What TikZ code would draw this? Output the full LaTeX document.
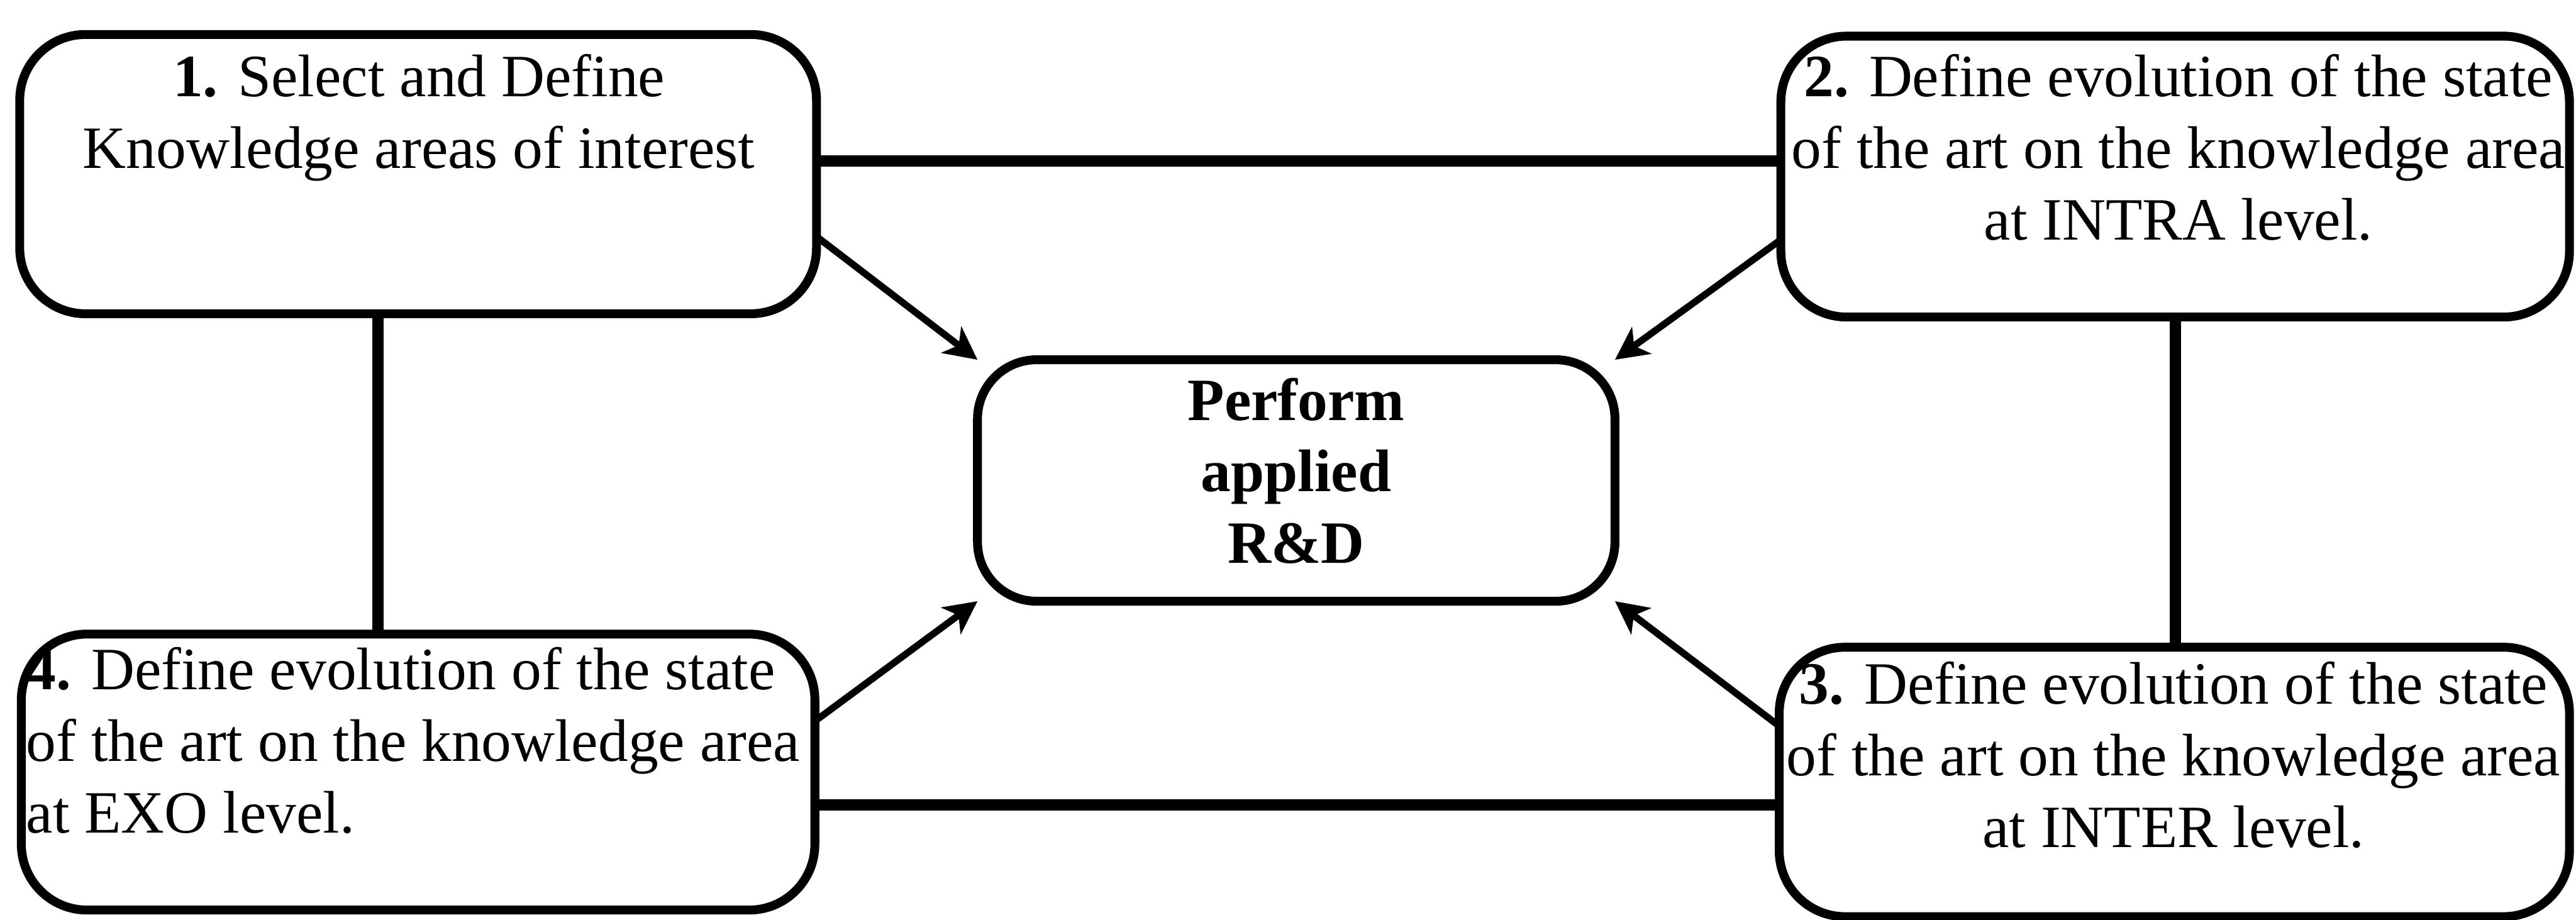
\documentclass[tikz,border=0pt]{standalone}
\usepackage{fontspec}
\setmainfont{Liberation Serif}
\usetikzlibrary{arrows.meta}

\tikzset{
  stagebox/.style={draw=black, line width=1.35mm, rounded corners=10mm,
    rectangle, inner sep=0pt, outer sep=0pt},
  hubbox/.style={stagebox, rounded corners=9mm},
  stagetext/.style={inner sep=0pt, outer sep=0pt,
    font=\fontsize{26}{31}\selectfont},
  link/.style={draw=black, line width=1.7mm},
  feed/.style={draw=black, line width=1.05mm,
    -{Stealth[length=5mm, width=5mm, inset=1.4mm]}}
}

\begin{document}
\begin{tikzpicture}[x=0.25mm, y=-0.25mm]
  \useasboundingbox (0,0) rectangle (1568,560);
  \fill[white] (0,0) rectangle (1568,560);

  % the four stage boxes and the central box
  \node[stagebox, minimum width=121.25mm, minimum height=42.5mm]  (b1) at (254.5,106) {};
  \node[stagebox, minimum width=120mm,    minimum height=42.75mm] (b2) at (1324,107.5) {};
  \node[stagebox, minimum width=120.75mm, minimum height=42mm]    (b4) at (254.5,470) {};
  \node[stagebox, minimum width=120.25mm, minimum height=41mm]    (b3) at (1323.5,476) {};
  \node[hubbox,   minimum width=97mm,     minimum height=36.75mm] (c)  at (789,292.5) {};

  % box texts
  \node[stagetext, anchor=north, align=center] (t1) at (255,33)
    {\textbf{1.} Select and Define\\Knowledge areas of interest};
  \node[stagetext, anchor=north, align=center] (t2) at (1326,33)
    {\textbf{2.} Define evolution of the state\\of the art on the knowledge area\\at INTRA level.};
  \node[stagetext, anchor=north, align=center] (t3) at (1323,403)
    {\textbf{3.} Define evolution of the state\\of the art on the knowledge area\\at INTER level.};
  \node[stagetext, anchor=north west, align=left] (t4) at (16,394)
    {\textbf{4.} Define evolution of the state\\of the art on the knowledge area\\at EXO level.};
  \node[stagetext, anchor=north, align=center, font=\fontsize{26}{31}\selectfont\bfseries] (tc) at (789,230)
    {Perform\\applied\\R\&D};

  % links between the stages
  \draw[link] ([yshift=2mm]b1.east) -- ([yshift=2mm]b1.east -| b2.west);
  \draw[link] ([xshift=-6.1mm]b1.south) -- ([xshift=-6.1mm]b1.south |- b4.north);
  \draw[link] (b2.south) -- (b2.south |- b3.north);
  \draw[link] ([yshift=-5mm]b4.east) -- ([yshift=-5mm]b4.east -| b3.west);

  % every stage feeds the central box
  \draw[feed] ([yshift=-9.5mm]b1.east) -- (c.north west);
  \draw[feed] ([yshift=-9.6mm]b2.west) -- (c.north east);
  \draw[feed] ([yshift=7.75mm]b4.east) -- (c.south west);
  \draw[feed] ([yshift=8.5mm]b3.west) -- (c.south east);
\end{tikzpicture}
\end{document}
